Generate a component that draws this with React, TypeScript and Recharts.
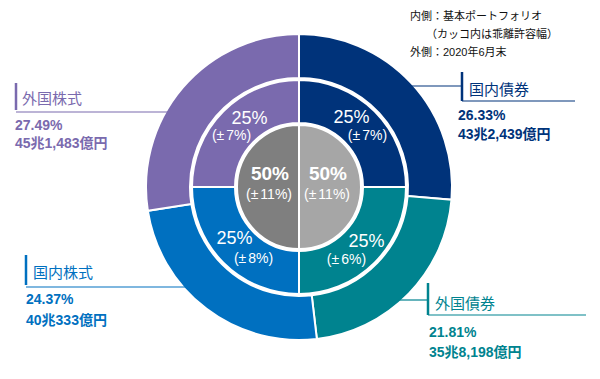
import { JSX } from "react";
import { PieChart, Pie, Cell } from "recharts";

const CATEGORIES = ["国内債券", "外国債券", "国内株式", "外国株式"];
const ACTUAL_SHARE = [26.33, 21.81, 24.37, 27.49];
const ACTUAL_AMOUNT = ["43兆2,439億円", "35兆8,198億円", "40兆333億円", "45兆1,483億円"];
const POLICY_SHARE = [25, 25, 25, 25];
const POLICY_RANGE = [7, 6, 8, 7];
const GROUPS = ["債券", "株式"];
const GROUP_SHARE = [50, 50];
const GROUP_RANGE = [11, 11];

const COLORS = ["#00337A", "#00838F", "#0070C0", "#7A6AAE"];
const GROUP_COLORS = ["#A6A6A6", "#7F7F7F"];

const FONT = "'Liberation Sans', 'Noto Sans CJK JP', sans-serif";
const RADIAN = Math.PI / 180;
const CX = 299;
const CY = 187;

const actualData = CATEGORIES.map((name, i) => ({
  name,
  value: ACTUAL_SHARE[i],
  amount: ACTUAL_AMOUNT[i],
}));
const policyData = CATEGORIES.map((name, i) => ({
  name,
  value: POLICY_SHARE[i],
  range: POLICY_RANGE[i],
}));
const groupData = GROUPS.map((name, i) => ({
  name,
  value: GROUP_SHARE[i],
  range: GROUP_RANGE[i],
}));

// callout placement for the outer ring (layout only)
const CALLOUTS = [
  { side: "right", barX: 462, top: 72, bottom: 101, lineY: 86, end: 575, nameX: 469, nameY: 89, textX: 458, pctY: 115, amtY: 134 },
  { side: "right", barX: 428, top: 283, bottom: 315, lineY: 300, end: 586, nameX: 435, nameY: 303, textX: 429, pctY: 332, amtY: 352 },
  { side: "left", barX: 26, top: 255, bottom: 285, lineY: 287, end: 0, nameX: 33, nameY: 272, textX: 26, pctY: 299, amtY: 320 },
  { side: "left", barX: 16, top: 83, bottom: 110, lineY: 112, end: 0, nameX: 22, nameY: 98, textX: 15, pctY: 125, amtY: 143 },
];

// small nudges for the two-line ring labels
const RING_OFFSETS = [
  [-8, -10, 8, 8],
  [7, -6, -13, 12],
  [-4, -9, 15, 11],
  [11, -9, -7, 8],
];

type LabelProps = {
  cx: number;
  cy: number;
  midAngle: number;
  innerRadius: number;
  outerRadius: number;
  index: number;
};

function OuterLabel(props: LabelProps): JSX.Element {
  const { cx, cy, outerRadius, index } = props;
  const c = CALLOUTS[index];
  const color = COLORS[index];
  const dy = c.lineY - cy;
  const edge = Math.sqrt(Math.max(outerRadius * outerRadius - dy * dy, 0));
  const edgeX = c.side === "right" ? cx + edge : cx - edge;
  return (
    <g fontFamily={FONT}>
      {c.side === "right" ? (
        <>
          <line x1={edgeX - 4} y1={c.lineY} x2={c.barX} y2={c.lineY} stroke={color} strokeWidth={1.2} />
          <line x1={c.barX} y1={c.bottom} x2={c.end} y2={c.bottom} stroke={color} strokeWidth={1.2} />
        </>
      ) : (
        <line x1={c.barX} y1={c.lineY} x2={edgeX + 4} y2={c.lineY} stroke={color} strokeWidth={1.2} />
      )}
      <line x1={c.barX} y1={c.top} x2={c.barX} y2={c.bottom} stroke={color} strokeWidth={2.5} />
      <text x={c.nameX} y={c.nameY} fill={color} fontSize={15} dominantBaseline="central">
        {CATEGORIES[index]}
      </text>
      <text x={c.textX} y={c.pctY} fill={color} fontSize={14} fontWeight="bold" dominantBaseline="central">
        {ACTUAL_SHARE[index].toFixed(2)}%
      </text>
      <text x={c.textX} y={c.amtY} fill={color} fontSize={14} fontWeight="bold" dominantBaseline="central">
        {ACTUAL_AMOUNT[index]}
      </text>
    </g>
  );
}

function RangeText({ x, y, range }: { x: number; y: number; range: number }): JSX.Element {
  return (
    <text x={x} y={y} fontSize={14} textAnchor="middle" dominantBaseline="central">
      (±<tspan dx={2}>{range}%)</tspan>
    </text>
  );
}

function RingLabel(props: LabelProps): JSX.Element {
  const { cx, cy, midAngle, innerRadius, outerRadius, index } = props;
  const r = (innerRadius + outerRadius) / 2;
  const x = cx + r * Math.cos(-midAngle * RADIAN);
  const y = cy + r * Math.sin(-midAngle * RADIAN);
  const o = RING_OFFSETS[index];
  return (
    <g fontFamily={FONT} fill="#fff">
      <text x={x + o[0]} y={y + o[1]} fontSize={18} textAnchor="middle" dominantBaseline="central">
        {POLICY_SHARE[index]}%
      </text>
      <RangeText x={x + o[2]} y={y + o[3]} range={POLICY_RANGE[index]} />
    </g>
  );
}

function CenterLabel(props: LabelProps): JSX.Element {
  const { cx, cy, midAngle, index } = props;
  const r = 29;
  const x = cx + r * Math.cos(-midAngle * RADIAN);
  const y = cy + r * Math.sin(-midAngle * RADIAN);
  return (
    <g fontFamily={FONT} fill="#fff">
      <text x={x} y={y - 14} fontSize={19} fontWeight="bold" textAnchor="middle" dominantBaseline="central">
        {GROUP_SHARE[index]}%
      </text>
      <RangeText x={x - 1} y={y + 7} range={GROUP_RANGE[index]} />
    </g>
  );
}

export default function App(): JSX.Element {
  return (
    <div style={{ position: "absolute", left: 0, top: 0, width: 600, height: 379, background: "#fff" }}>
      <PieChart width={600} height={379} margin={{ top: 0, right: 0, bottom: 0, left: 0 }}>
        <Pie
          data={actualData}
          dataKey="value"
          cx={CX}
          cy={CY}
          innerRadius={109}
          outerRadius={153}
          startAngle={90}
          endAngle={-270}
          stroke="#fff"
          strokeWidth={2}
          label={OuterLabel}
          labelLine={false}
          isAnimationActive={false}
        >
          {actualData.map((d, i) => (
            <Cell key={d.name} fill={COLORS[i]} />
          ))}
        </Pie>
        <Pie
          data={policyData}
          dataKey="value"
          cx={CX}
          cy={CY}
          innerRadius={64}
          outerRadius={107}
          startAngle={90}
          endAngle={-270}
          stroke="#fff"
          strokeWidth={2}
          label={RingLabel}
          labelLine={false}
          isAnimationActive={false}
        >
          {policyData.map((d, i) => (
            <Cell key={d.name} fill={COLORS[i]} />
          ))}
        </Pie>
        <Pie
          data={groupData}
          dataKey="value"
          cx={CX}
          cy={CY}
          innerRadius={0}
          outerRadius={62}
          startAngle={90}
          endAngle={-270}
          stroke="#fff"
          strokeWidth={2}
          label={CenterLabel}
          labelLine={false}
          isAnimationActive={false}
        >
          {groupData.map((d, i) => (
            <Cell key={d.name} fill={GROUP_COLORS[i]} />
          ))}
        </Pie>
      </PieChart>
      <div
        style={{
          position: "absolute",
          left: 410,
          top: 7,
          fontFamily: FONT,
          fontSize: 11,
          lineHeight: "18px",
          color: "#111",
          whiteSpace: "pre",
        }}
      >
        <div>内側：基本ポートフォリオ</div>
        <div style={{ paddingLeft: 16 }}>（カッコ内は乖離許容幅）</div>
        <div>外側：2020年6月末</div>
      </div>
    </div>
  );
}
